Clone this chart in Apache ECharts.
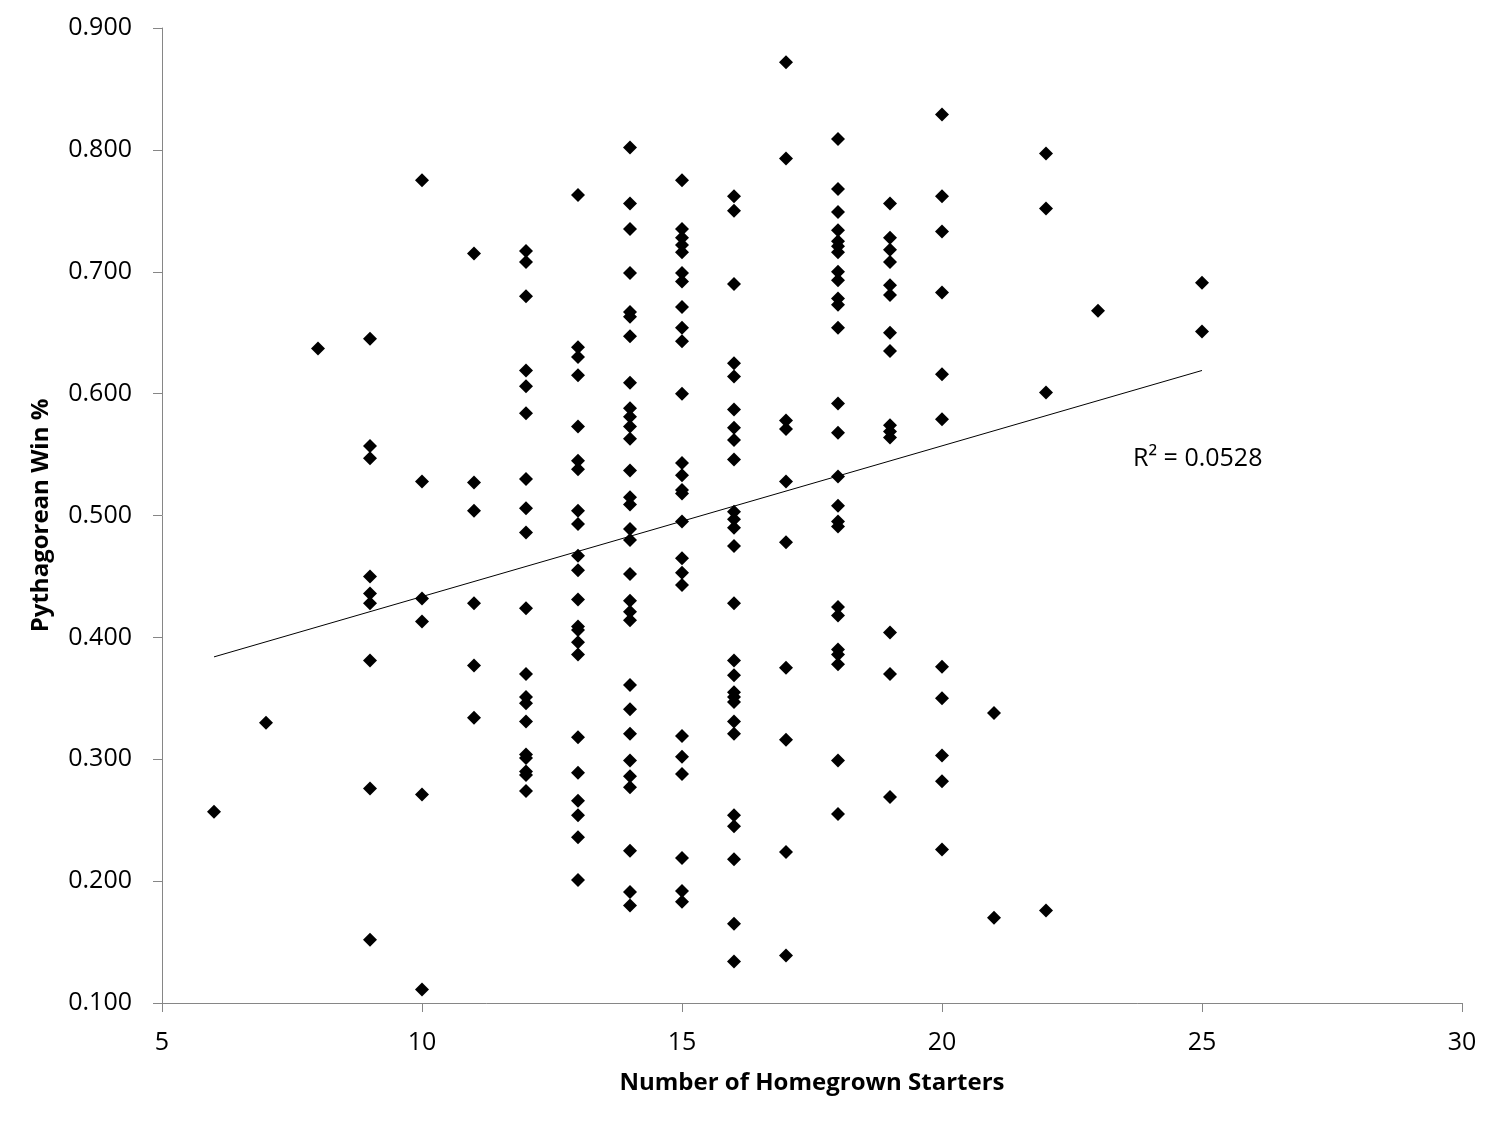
<!DOCTYPE html>
<html>
<head>
<meta charset="utf-8">
<script src="https://cdn.jsdelivr.net/npm/echarts@6/dist/echarts.min.js"></script>
<style>html,body{margin:0;padding:0;background:#fff;}#c{width:1500px;height:1125px;}</style>
</head>
<body>
<div id="c"></div>
<script>
// Pythagorean Win % by number of homegrown starters (x value → list of y values)
const starters6 = [0.257];
const starters7 = [0.330];
const starters8 = [0.637];
const starters9 = [0.645, 0.557, 0.547, 0.450, 0.436, 0.428, 0.381, 0.276, 0.152];
const starters10 = [0.775, 0.528, 0.432, 0.413, 0.271, 0.111];
const starters11 = [0.715, 0.527, 0.504, 0.428, 0.377, 0.334];
const starters12 = [0.717, 0.708, 0.680, 0.619, 0.606, 0.584, 0.530, 0.506, 0.486, 0.424, 0.370, 0.351, 0.346, 0.331, 0.304, 0.301, 0.290, 0.287, 0.274];
const starters13 = [0.763, 0.638, 0.630, 0.615, 0.573, 0.545, 0.538, 0.504, 0.493, 0.467, 0.455, 0.431, 0.409, 0.406, 0.396, 0.386, 0.318, 0.289, 0.266, 0.254, 0.236, 0.201];
const starters14 = [0.802, 0.756, 0.735, 0.699, 0.667, 0.663, 0.647, 0.609, 0.588, 0.581, 0.573, 0.563, 0.537, 0.515, 0.509, 0.489, 0.480, 0.452, 0.430, 0.421, 0.414, 0.361, 0.341, 0.321, 0.299, 0.286, 0.277, 0.225, 0.191, 0.180];
const starters15 = [0.775, 0.735, 0.728, 0.722, 0.716, 0.699, 0.692, 0.671, 0.654, 0.643, 0.600, 0.543, 0.533, 0.521, 0.518, 0.495, 0.465, 0.453, 0.443, 0.319, 0.302, 0.288, 0.219, 0.192, 0.183];
const starters16 = [0.762, 0.750, 0.690, 0.625, 0.614, 0.587, 0.572, 0.562, 0.546, 0.503, 0.497, 0.490, 0.475, 0.428, 0.381, 0.369, 0.355, 0.351, 0.347, 0.331, 0.321, 0.254, 0.245, 0.218, 0.165, 0.134];
const starters17 = [0.872, 0.793, 0.578, 0.571, 0.528, 0.478, 0.375, 0.316, 0.224, 0.139];
const starters18 = [0.809, 0.768, 0.749, 0.734, 0.725, 0.721, 0.716, 0.700, 0.693, 0.678, 0.673, 0.654, 0.592, 0.568, 0.532, 0.508, 0.495, 0.491, 0.425, 0.418, 0.390, 0.386, 0.378, 0.299, 0.255];
const starters19 = [0.756, 0.728, 0.718, 0.708, 0.689, 0.681, 0.650, 0.635, 0.574, 0.569, 0.564, 0.404, 0.370, 0.269];
const starters20 = [0.829, 0.762, 0.733, 0.683, 0.616, 0.579, 0.376, 0.350, 0.303, 0.282, 0.226];
const starters21 = [0.338, 0.170];
const starters22 = [0.797, 0.752, 0.601, 0.176];
const starters23 = [0.668];
const starters25 = [0.691, 0.651];

const columns = [
  [6, starters6], [7, starters7], [8, starters8], [9, starters9], [10, starters10],
  [11, starters11], [12, starters12], [13, starters13], [14, starters14], [15, starters15],
  [16, starters16], [17, starters17], [18, starters18], [19, starters19], [20, starters20],
  [21, starters21], [22, starters22], [23, starters23], [25, starters25]
];

// Linear trendline endpoints as drawn in the reference
const trendX = [6, 25];
const trendY = [0.384, 0.619];
const rSquaredLabel = 'R² = 0.0528';

const points = [];
columns.forEach(([x, ys]) => ys.forEach(y => points.push([x, y])));
const trend = trendX.map((x, i) => [x, trendY[i]]);

const chart = echarts.init(document.getElementById('c'), null, {renderer: 'canvas'});
const axisColor = '#868686';
const font = 'Open Sans';
chart.setOption({
  animation: false,
  backgroundColor: '#ffffff',
  grid: {left: 162, right: 38, top: 28, bottom: 122, containLabel: false},
  xAxis: {
    type: 'value', min: 5, max: 30, interval: 5,
    name: 'Number of Homegrown Starters', nameLocation: 'middle', nameGap: 68,
    nameTextStyle: {fontFamily: font, fontWeight: 'bold', fontSize: 24, color: '#000'},
    axisLine: {lineStyle: {color: axisColor, width: 1}},
    axisTick: {show: true, length: 9, inside: false, lineStyle: {color: axisColor}},
    axisLabel: {fontFamily: font, fontSize: 25, color: '#000', margin: 27},
    splitLine: {show: false}
  },
  yAxis: {
    type: 'value', min: 0.1, max: 0.9, interval: 0.1,
    name: 'Pythagorean Win %', nameLocation: 'middle', nameGap: 109, nameRotate: 90,
    nameTextStyle: {fontFamily: font, fontWeight: 'bold', fontSize: 24, color: '#000'},
    axisLine: {show: true, lineStyle: {color: axisColor, width: 1}},
    axisTick: {show: true, length: 9, inside: false, lineStyle: {color: axisColor}},
    axisLabel: {fontFamily: font, fontSize: 25, color: '#000', margin: 30,
      formatter: v => v.toFixed(3)},
    splitLine: {show: false}
  },
  series: [
    {
      type: 'line', data: trend, symbol: 'none', silent: true,
      lineStyle: {color: '#000', width: 1}, z: 1
    },
    {
      type: 'scatter', data: points, symbol: 'diamond', symbolSize: [14, 14],
      itemStyle: {color: '#000', opacity: 1}, z: 2
    }
  ],
  graphic: [{
    type: 'text', left: 1133, top: 446,
    style: {text: rSquaredLabel, fontFamily: font, fontSize: 25, fill: '#000'}
  }]
});
</script>
</body>
</html>
